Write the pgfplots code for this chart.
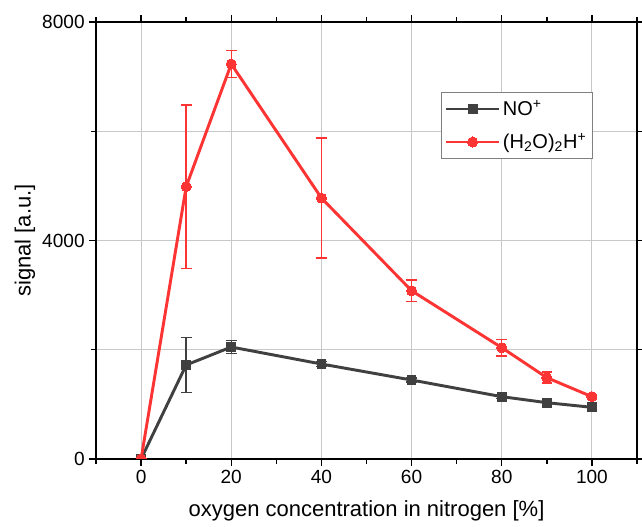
\documentclass[border=0pt]{standalone}
\usepackage{fontspec}
\setmainfont{Liberation Sans}
\usepackage{pgfplots}
\pgfplotsset{compat=1.18}
\definecolor{nogrey}{RGB}{64,64,64}
\definecolor{hred}{RGB}{252,52,52}
\definecolor{gridgrey}{RGB}{200,200,200}

\pgfplotstableread{
x y ey
0 0 0
10 1721 500
20 2050 120
40 1739 50
60 1446 40
80 1141 30
90 1031 30
100 946 30
}\noplus

\pgfplotstableread{
x y ey
0 0 0
10 4985 1495
20 7231 245
40 4778 1100
60 3081 200
80 2038 150
90 1489 100
100 1141 30
}\water

\begin{document}
\begin{tikzpicture}
\begin{axis}[
  scale only axis, width=405.75pt, height=327.75pt,
  xmin=-10, xmax=110, ymin=0, ymax=8000,
  xtick={0,20,...,100}, minor xtick={-10,10,30,50,70,90,110},
  ytick={0,4000,8000}, minor ytick={2000,6000},
  xmajorgrids, ymajorgrids, yminorgrids,
  grid style={gridgrey, line width=0.7pt},
  minor grid style={gridgrey, line width=0.7pt},
  tick align=outside, major tick length=5pt, minor tick length=3.5pt,
  tick style={black, line width=1pt},
  axis line style={black, line width=1.3pt},
  every tick label/.append style={font=\fontsize{14.3}{17}\selectfont},
  /pgf/number format/assume math mode=true,
  /pgf/number format/1000 sep={},
  scaled y ticks=false,
  clip marker paths=true,
  xlabel={oxygen concentration in nitrogen [\%]},
  ylabel={signal [a.u.]},
  label style={font=\fontsize{16.5}{19}\selectfont},
  xlabel style={at={(axis description cs:0.5,0)}, anchor=base, yshift=-43.5pt},
  ylabel style={at={(axis description cs:-0.1312,0.5)}, anchor=center},
  legend style={at={(0.638,0.84)}, anchor=north west, draw=gray, line width=0.8pt,
    font=\fontsize{15}{18}\selectfont, row sep=8pt, inner xsep=2.5pt, inner ysep=4pt},
  legend cell align=left,
  legend image code/.code={\draw[line width=1.6pt, mark repeat=2,mark phase=2] plot coordinates {(0cm,0cm) (0.7cm,0cm) (1.4cm,0cm)};},
  error bars/error bar style={line width=1.1pt},
  error bars/error mark options={rotate=90, mark size=4pt, line width=1.1pt},
]
\addplot[nogrey, line width=2.2pt, mark=square*, mark size=3.3pt, mark options={line width=0pt},
  error bars/.cd, y dir=both, y explicit]
  table[x=x, y=y, y error=ey] {\noplus};
\addlegendentry{NO\textsuperscript{+}}
\addplot[hred, line width=2.2pt, mark=*, mark size=3.8pt, mark options={line width=0pt},
  error bars/.cd, y dir=both, y explicit]
  table[x=x, y=y, y error=ey] {\water};
\addlegendentry{(H\textsubscript{2}O)\textsubscript{2}H\textsuperscript{+}}
\end{axis}
\pgfresetboundingbox
\path (-72pt,-51pt) rectangle (409.5pt,344.25pt);
\end{tikzpicture}
\end{document}
